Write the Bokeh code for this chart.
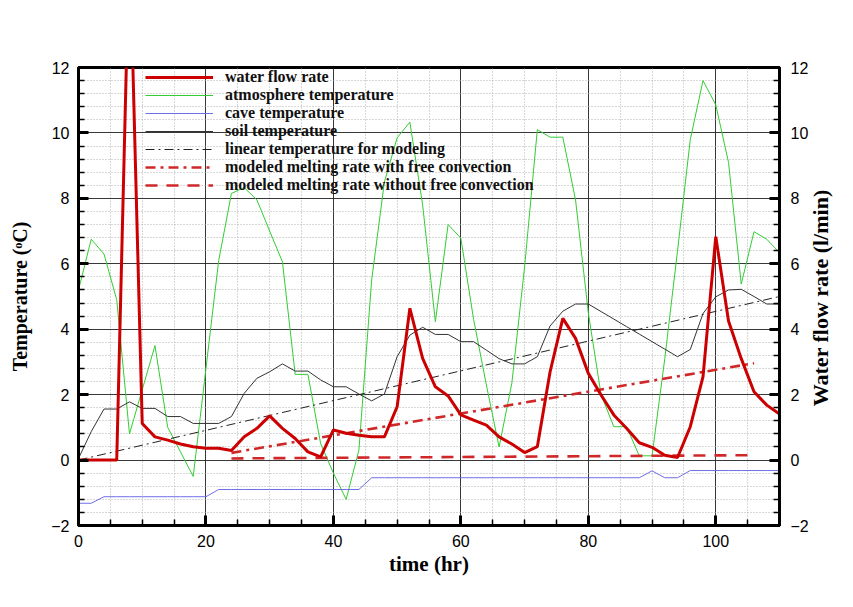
from bokeh.plotting import figure
from bokeh.layouts import row
from bokeh.models import Range1d, LinearAxis, Legend, LegendItem, FixedTicker, Div
from bokeh.embed import file_html
from bokeh.resources import INLINE

hours = list(range(0, 112, 2))

water_flow = [0, 0, 0, 0, 16, 1.12, 0.71, 0.61, 0.49, 0.41, 0.36, 0.36, 0.29, 0.71,
              0.97, 1.35, 0.97, 0.66, 0.25, 0.1, 0.92, 0.82, 0.76, 0.71, 0.71, 1.63,
              4.64, 3.11, 2.24, 1.96, 1.38, 1.22, 1.07, 0.71, 0.49, 0.23, 0.41, 2.7,
              4.33, 3.72, 2.65, 1.99, 1.38, 0.97, 0.53, 0.39, 0.15, 0.08, 1.02, 2.55,
              6.83, 4.25, 3.1, 2.09, 1.68, 1.41]

atmosphere = [5.2, 6.75, 6.3, 4.9, 0.8, 2.15, 3.5, 1.0, 0.25, -0.5, 2.8, 6.1, 8.15, 8.33,
              7.95, 7.0, 6.06, 2.62, 2.62, 0.5, -0.4, -1.2, 0.3, 5.5, 8.5, 9.85,
              10.33, 7.8, 4.23, 7.2, 6.78, 4.3, 2.3, 0.4, 2.35, 5.9, 10.1, 9.87,
              9.87, 7.95, 4.5, 2.0, 1.02, 1.02, 0.13, 0.13, 3.1, 6.4, 9.8, 11.6,
              10.86, 9.1, 5.38, 6.98, 6.75, 6.34]

cave = [-1.32, -1.32, -1.12, -1.12, -1.12, -1.12, -1.12, -1.12, -1.12, -1.12, -1.12,
        -0.9, -0.9, -0.9, -0.9, -0.9, -0.9, -0.9, -0.9, -0.9, -0.9, -0.9, -0.9,
        -0.54, -0.54, -0.54, -0.54, -0.54, -0.54, -0.54, -0.54, -0.54, -0.54, -0.54,
        -0.54, -0.54, -0.54, -0.54, -0.54, -0.54, -0.54, -0.54, -0.54, -0.54, -0.54,
        -0.33, -0.54, -0.54, -0.32, -0.32, -0.32, -0.32, -0.32, -0.32, -0.32, -0.32]

soil = [0.05, 0.87, 1.56, 1.56, 1.78, 1.58, 1.58, 1.33, 1.33, 1.12, 1.12, 1.12, 1.33,
        2.04, 2.5, 2.7, 2.94, 2.72, 2.72, 2.45, 2.24, 2.24, 2.02, 1.81, 2.02, 3.16,
        3.82, 4.06, 3.84, 3.84, 3.62, 3.62, 3.36, 3.1, 2.94, 2.94, 3.16, 4.1, 4.55,
        4.77, 4.77, 4.54, 4.31, 4.08, 3.85, 3.62, 3.39, 3.16, 3.38, 4.48, 4.99, 5.2,
        5.22, 5.0, 4.77, 4.77]

linear_hours = [0, 110]
linear_temp = [0.0, 5.0]

model_hours = [24, 106]
model_with_conv = [0.22, 2.96]
model_without_conv = [0.05, 0.15]

x_major = [0, 20, 40, 60, 80, 100]
x_minor = [v for v in range(0, 111, 5) if v % 20 != 0]
y_major = [-2, 0, 2, 4, 6, 8, 10, 12]
y_minor = [round(-2 + 0.4 * i, 2) for i in range(36) if round((-2 + 0.4 * i) % 2, 2) not in (0.0, 2.0)]

right_title_text = "Water flow rate (l/min)"

RED = "#cc0000"
RED2 = "#d02828"
GREEN = "#33cc33"
BLUE = "#6f6fe8"

p = figure(width=811, height=591, output_backend="svg", toolbar_location=None,
           x_range=Range1d(0, 110), y_range=Range1d(-2, 12),
           min_border_left=78, min_border_right=28, min_border_top=67, min_border_bottom=66)
p.extra_y_ranges = {"flow": Range1d(-2, 12)}

tick_font = "Liberation Sans"
label_font = "Liberation Serif"

xt = FixedTicker(ticks=x_major, minor_ticks=x_minor)
yt = FixedTicker(ticks=y_major, minor_ticks=y_minor)

p.xaxis.ticker = xt
p.yaxis.ticker = yt
p.xgrid.ticker = xt
p.ygrid.ticker = yt

for g in (p.xgrid, p.ygrid):
    g.grid_line_color = "#222222"
    g.grid_line_width = 1
    g.grid_line_alpha = 0.9
    g.minor_grid_line_color = "#b0b0b0"
    g.minor_grid_line_dash = "1 2"
    g.minor_grid_line_width = 1

right = LinearAxis(y_range_name="flow", ticker=yt)
p.add_layout(right, "right")

for ax in (p.xaxis[0], p.yaxis[0], right):
    ax.axis_line_width = 3
    ax.axis_line_color = "black"
    ax.major_tick_in = 10
    ax.major_tick_out = 0
    ax.major_tick_line_width = 3
    ax.minor_tick_in = 6
    ax.minor_tick_out = 0
    ax.minor_tick_line_width = 1.5
    ax.major_label_text_font = tick_font
    ax.major_label_text_font_size = "16px"
    ax.major_label_text_color = "black"
    ax.axis_label_text_font = label_font
    ax.axis_label_text_font_style = "bold"
    ax.axis_label_text_font_size = "20px"
    ax.axis_label_text_color = "black"
    ax.major_label_standoff = 9

right.major_label_standoff = 11
p.xaxis.axis_label = "time (hr)"
p.xaxis.axis_label_standoff = 2
p.xaxis.axis_label_text_font_size = "21px"
p.yaxis[0].axis_label = "Temperature (ᵒC)"
p.yaxis[0].axis_label_standoff = 17

p.outline_line_color = "black"
p.outline_line_width = 3
p.outline_line_alpha = 1

r_atm = p.line(hours, atmosphere, line_color=GREEN, line_width=1)
r_cave = p.line(hours, cave, line_color=BLUE, line_width=1)
r_soil = p.line(hours, soil, line_color="#333333", line_width=1)
r_lin = p.line(linear_hours, linear_temp, line_color="#222222", line_width=1, line_dash="9 4 2 4")
r_mw = p.line(model_hours, model_with_conv, line_color=RED2, line_width=2.6,
              line_dash="10 5 3 5", y_range_name="flow")
r_mwo = p.line(model_hours, model_without_conv, line_color=RED2, line_width=2.6,
               line_dash="12 9", y_range_name="flow")
r_water = p.line(hours, water_flow, line_color=RED, line_width=3, y_range_name="flow")

legend = Legend(items=[
    LegendItem(label="water flow rate", renderers=[r_water]),
    LegendItem(label="atmosphere temperature", renderers=[r_atm]),
    LegendItem(label="cave temperature", renderers=[r_cave]),
    LegendItem(label="soil temperature", renderers=[r_soil]),
    LegendItem(label="linear temperature for modeling", renderers=[r_lin]),
    LegendItem(label="modeled melting rate with free convection", renderers=[r_mw]),
    LegendItem(label="modeled melting rate without free convection", renderers=[r_mwo]),
], location=(67, 331))
legend.background_fill_alpha = 0
legend.border_line_alpha = 0
legend.padding = 0
legend.margin = 0
legend.spacing = 0
legend.glyph_width = 68
legend.glyph_height = 18
legend.label_height = 18
legend.label_standoff = 12
legend.label_text_font = label_font
legend.label_text_font_style = "bold"
legend.label_text_font_size = "16px"
legend.label_text_color = "#111111"
p.add_layout(legend)

# right-hand axis title, reading bottom to top like the left one
title_html = (
    '<div style="position:relative; width:26px; height:591px;">'
    '<div style="position:absolute; left:10px; top:298px; '
    'transform: translate(-50%, -50%) rotate(-90deg); white-space:nowrap; '
    "font-family:'Liberation Serif'; font-weight:bold; font-size:22px; color:black;\">"
    + right_title_text + '</div></div>'
)
right_title = Div(text=title_html, width=26, height=591, margin=0)

layout = row(p, right_title, spacing=0)

open("out.html", "w").write(file_html(layout, INLINE))
